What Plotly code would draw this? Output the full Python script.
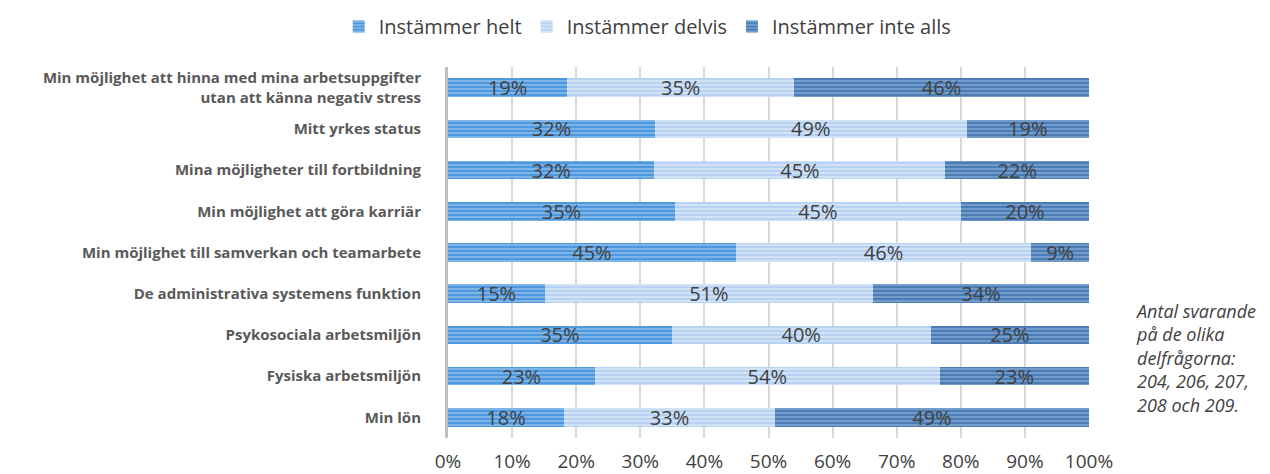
import plotly.graph_objects as go

categories = [
    "Min möjlighet att hinna med mina arbetsuppgifter<br>utan att känna negativ stress",
    "Mitt yrkes status",
    "Mina möjligheter till fortbildning",
    "Min möjlighet att göra karriär",
    "Min möjlighet till samverkan och teamarbete",
    "De administrativa systemens funktion",
    "Psykosociala arbetsmiljön",
    "Fysiska arbetsmiljön",
    "Min lön",
]
helt = [18.6, 32.3, 32.2, 35.4, 44.9, 15.1, 34.9, 22.9, 18.1]
delvis = [35.4, 48.6, 45.4, 44.6, 46.1, 51.2, 40.4, 53.8, 32.9]
inte_alls = [46.0, 19.1, 22.4, 20.0, 9.0, 33.7, 24.7, 23.3, 49.0]
series_names = ["Instämmer helt", "Instämmer delvis", "Instämmer inte alls"]
tick_vals = [0, 10, 20, 30, 40, 50, 60, 70, 80, 90, 100]
tick_text = [f"{v}%" for v in tick_vals]

styles = [
    ("#4e97dc", "#93c2ee"),
    ("#b7d2f2", "#dde9f9"),
    ("#4a7db6", "#85a9d3"),
]

FONT = "Open Sans"
fig = go.Figure()
for name, vals, (bg, fg) in zip(series_names, [helt, delvis, inte_alls], styles):
    fig.add_trace(go.Bar(
        y=categories, x=vals, name=name, orientation="h",
        marker=dict(color=bg, line=dict(width=0),
                    pattern=dict(shape="-", fillmode="replace", bgcolor=bg,
                                 fgcolor=fg, size=4, solidity=0.35)),
        texttemplate="%{x:.0f}%", textposition="inside",
        insidetextanchor="middle", textangle=0,
        textfont=dict(family=FONT, size=20, color="#404040"),
        hoverinfo="x+name",
    ))

fig.update_layout(
    width=1270, height=474, barmode="stack", bargap=0.55,
    plot_bgcolor="white", paper_bgcolor="white",
    margin=dict(l=448, r=181, t=67, b=36),
    font=dict(family=FONT, color="#404040"),
    uniformtext=dict(mode="show", minsize=20),
    legend=dict(orientation="h", x=0.51, xanchor="center", xref="container",
                y=0.985, yanchor="top", yref="container",
                font=dict(size=20, color="#404040"),
                itemwidth=30, traceorder="normal"),
    showlegend=True,
)
fig.update_xaxes(range=[0, 100], tickvals=tick_vals, ticktext=tick_text,
                 showgrid=True, gridcolor="#d9d9d9", gridwidth=2,
                 zeroline=False, ticks="outside", ticklen=6, tickcolor="rgba(0,0,0,0)",
                 tickfont=dict(size=19, color="#404040"), fixedrange=True,
                 automargin=False)
fig.update_yaxes(categoryorder="array", categoryarray=categories, autorange="reversed",
                 showline=True, linecolor="#bfbfbf", linewidth=3,
                 ticks="outside", ticklen=21, tickcolor="rgba(0,0,0,0)", automargin=False,
                 tickfont=dict(size=15, color="#595959", family=FONT, weight="bold"))

fig.add_annotation(
    text="<i>Antal svarande<br>på de olika<br>delfrågorna:<br>204, 206, 207,<br>208 och 209.</i>",
    xref="paper", yref="paper", x=1.068, y=0.05, xanchor="left", yanchor="bottom",
    align="left", showarrow=False, font=dict(family=FONT, size=18, color="#404040"),
)

fig.write_html("out.html", post_script="document.body.style.margin='0';",
               config={"displayModeBar": False})
